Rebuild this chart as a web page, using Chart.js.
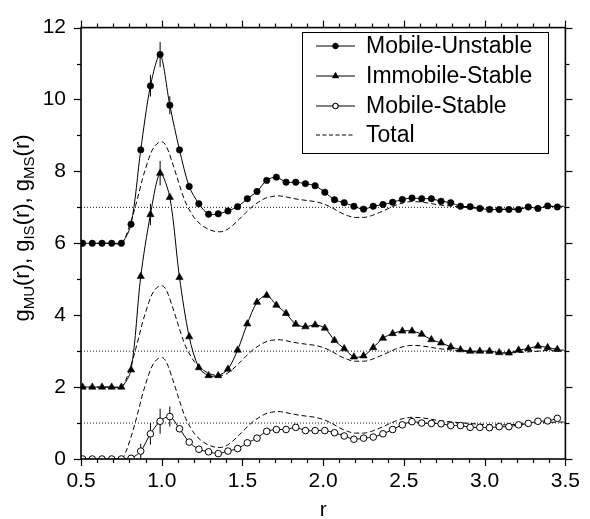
<!DOCTYPE html>
<html><head><meta charset="utf-8">
<script src="https://cdn.jsdelivr.net/npm/chart.js@4"></script>
<style>html,body{margin:0;padding:0;background:#fff}canvas{display:block}</style>
</head><body>
<canvas id="c" width="590" height="519"></canvas>
<script>
// ---- data ----
const r = [0.51,0.57,0.63,0.69,0.75,0.81,0.87,0.93,0.99,1.05,1.11,1.17,1.23,1.29,1.35,1.41,1.47,1.53,1.59,1.65,1.71,1.77,1.83,1.89,1.95,2.01,2.07,2.13,2.19,2.25,2.31,2.37,2.43,2.49,2.55,2.61,2.67,2.73,2.79,2.85,2.91,2.97,3.03,3.09,3.15,3.21,3.27,3.33,3.39,3.45];
const gMU = [6.0,6.0,6.0,6.0,6.0,6.53,8.60,10.38,11.25,9.84,8.60,7.58,7.10,6.81,6.82,6.90,7.02,7.24,7.44,7.75,7.84,7.70,7.70,7.66,7.60,7.42,7.21,7.13,7.03,6.95,7.03,7.08,7.14,7.22,7.26,7.24,7.24,7.17,7.13,7.03,7.02,6.97,6.94,6.94,6.94,6.94,7.01,6.97,7.04,7.01];
const gIS = [2.0,2.0,2.0,2.0,2.0,2.48,5.08,6.80,7.95,7.28,5.05,3.40,2.54,2.32,2.32,2.50,3.03,3.76,4.36,4.55,4.28,4.05,3.75,3.68,3.73,3.64,3.30,3.07,2.84,2.87,3.10,3.36,3.49,3.56,3.56,3.47,3.32,3.23,3.12,3.04,3.00,3.00,3.00,2.96,2.95,3.03,3.07,3.14,3.10,3.05];
const gMS = [0,0,0,0,0,0.02,0.22,0.70,1.05,1.18,0.84,0.47,0.27,0.20,0.15,0.22,0.29,0.45,0.58,0.77,0.82,0.82,0.88,0.79,0.79,0.79,0.73,0.64,0.55,0.58,0.61,0.70,0.82,0.95,1.04,1.00,0.99,0.98,0.93,0.93,0.88,0.88,0.87,0.90,0.90,0.95,0.99,1.05,1.06,1.13];
const totalR = [0.50,0.74,0.76,0.78,0.80,0.82,0.84,0.86,0.88,0.90,0.92,0.94,0.96,0.98,1.00,1.02,1.04,1.06,1.08,1.10,1.12,1.14,1.16,1.18,1.20,1.24,1.28,1.32,1.36,1.40,1.44,1.48,1.52,1.56,1.60,1.64,1.68,1.72,1.76,1.80,1.85,1.90,1.95,2.00,2.05,2.10,2.15,2.20,2.25,2.30,2.35,2.40,2.45,2.50,2.55,2.60,2.65,2.70,2.80,2.90,3.00,3.10,3.20,3.30,3.40,3.50];
const totalG = [0,0,0.04,0.22,0.48,0.76,1.08,1.42,1.78,2.08,2.36,2.58,2.72,2.80,2.82,2.76,2.58,2.32,2.05,1.76,1.48,1.22,1.02,0.86,0.72,0.53,0.41,0.34,0.32,0.37,0.50,0.67,0.85,1.02,1.15,1.25,1.30,1.32,1.30,1.26,1.22,1.19,1.16,1.10,1.00,0.87,0.77,0.72,0.72,0.77,0.86,0.96,1.06,1.13,1.16,1.15,1.12,1.08,1.03,0.99,0.96,0.95,0.96,0.99,1.02,1.03];
const totalOffsets = [6, 2, 0];      // Total curve drawn under each panel
const refLevels = [7, 3, 1];         // dotted asymptote lines
const errMU = [[0.93,0.30],[0.99,0.35],[1.05,0.25]];
const errIS = [[0.93,0.30],[0.99,0.34]];
const errMS = [[0.87,0.20],[0.93,0.30],[0.99,0.35],[1.05,0.28]];
const xMajorTicks = [0.5,1.0,1.5,2.0,2.5,3.0,3.5];
const yMajorTicks = [0,2,4,6,8,10,12];
const legendLabels = ['Mobile-Unstable','Immobile-Stable','Mobile-Stable','Total'];
const xTitle = 'r';
const yTitleParts = [['g',0],['MU',1],['(r), g',0],['IS',1],['(r), g',0],['MS',1],['(r)',0]];

// ---- chart ----
const FONT = "'Liberation Sans', Arial, Helvetica, sans-serif";
Chart.defaults.font.family = FONT;
Chart.defaults.color = '#000';
const pts = (xs, ys, off) => xs.map((x, i) => ({x: x, y: ys[i] + (off || 0)}));
const isMaj = (v, list) => list.some(m => Math.abs(m - v) < 1e-6);

const seriesStyle = [
  {pointStyle:'circle', pointRadius:3.2, pointBackgroundColor:'#000', pointBorderWidth:0.6, lr:2.7},
  {pointStyle:'triangle', pointRadius:4.2, pointBackgroundColor:'#000', pointBorderWidth:0.6, lr:3.3},
  {pointStyle:'circle', pointRadius:3.3, pointBackgroundColor:'#fff', pointBorderWidth:1, lr:2.7}
];
const seriesData = [gMU, gIS, gMS];
const datasets = [];
seriesData.forEach((g, k) => {
  datasets.push(Object.assign({
    label: legendLabels[k], data: pts(r, g), borderColor:'#000', borderWidth:1,
    pointBorderColor:'#000', tension:0.3, pointHoverRadius:0
  }, seriesStyle[k]));
});
totalOffsets.forEach(off => {
  datasets.push({label: legendLabels[3], data: pts(totalR, totalG, off), borderColor:'#000', borderWidth:1,
    borderDash:[5,3], pointRadius:0, cubicInterpolationMode:'monotone'});
});
refLevels.forEach(L => {
  datasets.push({label:'ref', data:[{x:0.5,y:L},{x:3.5,y:L}], borderColor:'#000', borderWidth:0.9,
    borderDash:[1,2], pointRadius:0});
});

const decorPlugin = {
  id: 'decor',
  beforeDatasetsDraw(chart) {
    const {ctx, scales:{x, y}} = chart;
    ctx.save();
    ctx.strokeStyle = '#000'; ctx.lineWidth = 1;
    [[errMU, gMU],[errIS, gIS],[errMS, gMS]].forEach(([errs, g]) => {
      errs.forEach(([rx, e]) => {
        const i = r.findIndex(v => Math.abs(v - rx) < 1e-6);
        const px = x.getPixelForValue(rx);
        ctx.beginPath();
        ctx.moveTo(px, y.getPixelForValue(g[i] - e));
        ctx.lineTo(px, y.getPixelForValue(g[i] + e));
        ctx.stroke();
      });
    });
    ctx.restore();
  },
  afterDraw(chart) {
    const {ctx, chartArea:{left, right, top, bottom}, scales:{x, y}} = chart;
    ctx.save();
    ctx.strokeStyle = '#000';
    ctx.lineWidth = 1.6;
    ctx.strokeRect(left, top, right - left, bottom - top);
    ctx.lineWidth = 1.2;
    const line = (a, b, c, d) => { ctx.beginPath(); ctx.moveTo(a, b); ctx.lineTo(c, d); ctx.stroke(); };
    x.ticks.forEach(t => {
      const px = Math.round(x.getPixelForValue(t.value)) + 0.5;
      const L = isMaj(t.value, xMajorTicks) ? 7 : 4;
      line(px, bottom, px, bottom + L);
      line(px, top, px, top - L);
    });
    y.ticks.forEach(t => {
      const py = Math.round(y.getPixelForValue(t.value)) + 0.5;
      const L = isMaj(t.value, yMajorTicks) ? 7 : 4;
      line(left, py, left - L, py);
      line(right, py, right + L, py);
    });
    // x title
    ctx.fillStyle = '#000';
    ctx.font = '21px ' + FONT;
    ctx.textAlign = 'center'; ctx.textBaseline = 'alphabetic';
    ctx.fillText(xTitle, (left + right) / 2, 516);
    // y title with subscripts
    ctx.save();
    ctx.translate(29, 228);
    ctx.rotate(-Math.PI / 2);
    const mainF = '22px ' + FONT, subF = '15px ' + FONT;
    let total = 0;
    yTitleParts.forEach(([s, sub]) => { ctx.font = sub ? subF : mainF; total += ctx.measureText(s).width; });
    let cx = -total / 2;
    ctx.textAlign = 'left';
    yTitleParts.forEach(([s, sub]) => {
      ctx.font = sub ? subF : mainF;
      ctx.fillText(s, cx, sub ? 5 : 0);
      cx += ctx.measureText(s).width;
    });
    ctx.restore();
    // legend
    const bx = 302, by = 32, bw = 246, bh = 121;
    ctx.fillStyle = '#fff';
    ctx.fillRect(bx, by, bw, bh);
    ctx.lineWidth = 1;
    ctx.strokeRect(bx + 0.5, by + 0.5, bw, bh);
    const rows = [46, 76, 106, 135];
    ctx.font = '23px ' + FONT;
    ctx.textBaseline = 'middle'; ctx.textAlign = 'left';
    legendLabels.forEach((lab, k) => {
      const yy = rows[k];
      ctx.strokeStyle = '#000'; ctx.lineWidth = 1;
      ctx.setLineDash(k === 3 ? [4, 2.5] : []);
      line(316, yy, 355, yy);
      ctx.setLineDash([]);
      if (k < 3) {
        const st = seriesStyle[k];
        Chart.helpers.drawPoint(ctx, {pointStyle: st.pointStyle, radius: st.lr, borderWidth: st.pointBorderWidth}, 335.5, yy);
        ctx.fillStyle = st.pointBackgroundColor;
        ctx.fill();
        ctx.strokeStyle = '#000'; ctx.lineWidth = st.pointBorderWidth;
        ctx.stroke();
      }
      ctx.fillStyle = '#000';
      ctx.fillText(lab, 366, yy + 1);
    });
    ctx.restore();
  }
};

new Chart(document.getElementById('c'), {
  type: 'line',
  data: {datasets: datasets},
  options: {
    responsive: false, animation: false, devicePixelRatio: 1,
    layout: {padding: {left: 0, top: 20, right: 17, bottom: 0}},
    plugins: {legend: {display: false}, tooltip: {enabled: false}},
    events: [],
    scales: {
      x: {type: 'linear', min: 0.5, max: 3.5,
          grid: {display: false, drawTicks: false}, border: {display: false},
          ticks: {stepSize: 0.1, autoSkip: false, maxRotation: 0, padding: 10, font: {size: 21},
                  callback: v => isMaj(v, xMajorTicks) ? v.toFixed(1) : ''},
          afterFit: s => { s.height = 60; }},
      y: {min: 0, max: 12,
          grid: {display: false, drawTicks: false}, border: {display: false},
          ticks: {stepSize: 1, autoSkip: false, padding: 15, font: {size: 21},
                  callback: v => isMaj(v, yMajorTicks) ? String(v) : ''},
          afterFit: s => { s.width = 81; }}
    }
  },
  plugins: [decorPlugin]
});
</script>
</body></html>
